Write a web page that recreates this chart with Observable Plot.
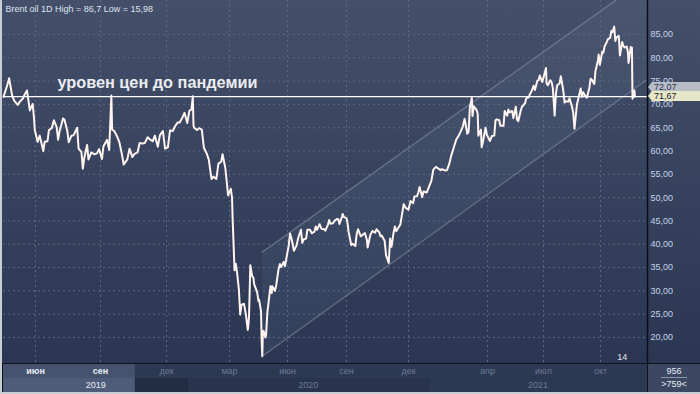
<!DOCTYPE html>
<html><head><meta charset="utf-8">
<script src="https://cdn.jsdelivr.net/npm/d3@7"></script>
<script src="https://cdn.jsdelivr.net/npm/@observablehq/plot@0.6"></script>
<style>
html,body{margin:0;padding:0;background:#c9cdd4;}
#wrap{position:relative;width:700px;height:394px;overflow:hidden;font-family:"Liberation Sans",Arial,sans-serif;}
#main,#bar{position:absolute;left:0;}
#main{top:0;}
#bar{top:363px;}
.border{position:absolute;background:#c9cdd4;}
.tag{position:absolute;left:652px;width:46px;font-size:9px;line-height:10px;padding-left:2px;}
.tag:before{content:"";position:absolute;left:-4px;top:0;border-top:5px solid transparent;border-bottom:5px solid transparent;border-right:4px solid var(--c);}
#info{position:absolute;left:648px;top:364px;width:52px;height:28px;background:#3c4862;color:#e4e9f2;font-size:9px;text-align:center;line-height:10px;}
</style></head>
<body><div id="wrap"><div id="main"></div><div id="bar"></div></div>
<script>
// ---- data ----
const brentDates = [
"2019-04-17","2019-04-22","2019-04-25","2019-04-29","2019-05-02","2019-05-07","2019-05-10","2019-05-14","2019-05-17","2019-05-20",
"2019-05-22","2019-05-24","2019-05-28","2019-05-30","2019-05-31","2019-06-04","2019-06-07","2019-06-12","2019-06-14","2019-06-18",
"2019-06-20","2019-06-24","2019-06-27","2019-07-01","2019-07-03","2019-07-05","2019-07-10","2019-07-12","2019-07-16","2019-07-18",
"2019-07-22","2019-07-25","2019-07-30","2019-08-01","2019-08-05","2019-08-07","2019-08-09","2019-08-13","2019-08-15","2019-08-19",
"2019-08-23","2019-08-27","2019-08-30","2019-09-03","2019-09-05","2019-09-10","2019-09-13","2019-09-16","2019-09-17","2019-09-20",
"2019-09-24","2019-09-27","2019-10-01","2019-10-03","2019-10-08","2019-10-11","2019-10-15","2019-10-18","2019-10-22","2019-10-25",
"2019-10-29","2019-11-01","2019-11-05","2019-11-08","2019-11-12","2019-11-15","2019-11-19","2019-11-22","2019-11-26","2019-11-29",
"2019-12-03","2019-12-06","2019-12-10","2019-12-13","2019-12-17","2019-12-20","2019-12-24","2019-12-27","2019-12-31","2020-01-03",
"2020-01-06","2020-01-08","2020-01-09","2020-01-10","2020-01-14","2020-01-17","2020-01-21","2020-01-24","2020-01-28","2020-01-31",
"2020-02-04","2020-02-07","2020-02-11","2020-02-14","2020-02-18","2020-02-20","2020-02-24","2020-02-26","2020-02-28","2020-03-03",
"2020-03-05","2020-03-06","2020-03-09","2020-03-11","2020-03-13","2020-03-16","2020-03-18","2020-03-20","2020-03-24","2020-03-27",
"2020-03-30","2020-03-31","2020-04-01","2020-04-02","2020-04-03","2020-04-06","2020-04-08","2020-04-09","2020-04-14","2020-04-16",
"2020-04-17","2020-04-20","2020-04-21","2020-04-22","2020-04-23","2020-04-24","2020-04-27","2020-04-28","2020-04-30","2020-05-01",
"2020-05-05","2020-05-07","2020-05-08","2020-05-12","2020-05-14","2020-05-18","2020-05-20","2020-05-22","2020-05-26","2020-05-28",
"2020-06-01","2020-06-03","2020-06-05","2020-06-08","2020-06-11","2020-06-15","2020-06-18","2020-06-22","2020-06-24","2020-06-26",
"2020-06-30","2020-07-02","2020-07-06","2020-07-09","2020-07-13","2020-07-15","2020-07-17","2020-07-21","2020-07-24","2020-07-28",
"2020-07-30","2020-08-03","2020-08-05","2020-08-07","2020-08-11","2020-08-13","2020-08-17","2020-08-19","2020-08-21","2020-08-25",
"2020-08-26","2020-08-28","2020-09-01","2020-09-03","2020-09-04","2020-09-08","2020-09-10","2020-09-14","2020-09-16","2020-09-18",
"2020-09-22","2020-09-24","2020-09-28","2020-10-01","2020-10-02","2020-10-06","2020-10-09","2020-10-13","2020-10-15","2020-10-19",
"2020-10-21","2020-10-23","2020-10-27","2020-10-29","2020-11-02","2020-11-04","2020-11-06","2020-11-09","2020-11-11","2020-11-13",
"2020-11-17","2020-11-19","2020-11-24","2020-11-27","2020-12-01","2020-12-04","2020-12-08","2020-12-10","2020-12-14","2020-12-16",
"2020-12-18","2020-12-22","2020-12-24","2020-12-29","2020-12-31","2021-01-05","2021-01-08","2021-01-12","2021-01-14","2021-01-19",
"2021-01-21","2021-01-25","2021-01-27","2021-01-29","2021-02-02","2021-02-04","2021-02-08","2021-02-10","2021-02-12","2021-02-16",
"2021-02-18","2021-02-22","2021-02-25","2021-03-01","2021-03-03","2021-03-05","2021-03-08","2021-03-09","2021-03-11","2021-03-15",
"2021-03-17","2021-03-18","2021-03-22","2021-03-23","2021-03-25","2021-03-29","2021-03-31","2021-04-05","2021-04-08","2021-04-12",
"2021-04-14","2021-04-16","2021-04-20","2021-04-22","2021-04-27","2021-04-29","2021-05-03","2021-05-05","2021-05-07","2021-05-11",
"2021-05-13","2021-05-17","2021-05-19","2021-05-21","2021-05-25","2021-05-27","2021-06-01","2021-06-03","2021-06-07","2021-06-09",
"2021-06-11","2021-06-15","2021-06-17","2021-06-21","2021-06-23","2021-06-25","2021-06-29","2021-07-01","2021-07-05","2021-07-06",
"2021-07-08","2021-07-12","2021-07-14","2021-07-16","2021-07-19","2021-07-21","2021-07-23","2021-07-27","2021-07-29","2021-08-02",
"2021-08-04","2021-08-06","2021-08-10","2021-08-12","2021-08-16","2021-08-18","2021-08-20","2021-08-24","2021-08-26","2021-08-30",
"2021-09-01","2021-09-03","2021-09-07","2021-09-09","2021-09-13","2021-09-15","2021-09-17","2021-09-21","2021-09-23","2021-09-27",
"2021-09-28","2021-09-30","2021-10-04","2021-10-06","2021-10-08","2021-10-12","2021-10-14","2021-10-18","2021-10-20","2021-10-22",
"2021-10-25","2021-10-27","2021-10-29","2021-11-02","2021-11-04","2021-11-08","2021-11-10","2021-11-12","2021-11-16","2021-11-18",
"2021-11-19","2021-11-23","2021-11-25","2021-11-26","2021-11-29","2021-11-30"
];
const brentClose = [
71.6,74.0,75.6,72.0,70.8,69.9,70.6,71.2,72.2,73.0,
70.9,68.7,70.1,66.9,64.5,61.97,63.3,59.97,62.0,62.1,
64.5,64.9,66.6,65.1,62.4,64.2,67.0,66.7,64.35,61.9,
63.3,63.4,65.0,60.5,59.8,56.2,58.5,61.3,58.2,59.7,
59.3,59.5,60.4,58.3,60.95,62.4,60.2,71.9,64.6,64.3,
63.1,61.9,58.9,57.1,58.2,60.5,58.7,59.4,59.7,61.7,
61.6,61.7,62.96,62.5,62.1,63.3,60.9,63.4,64.3,60.5,
60.8,64.4,64.3,65.2,66.1,66.1,67.2,68.2,66.0,68.6,
68.9,71.75,65.4,65.0,64.5,64.9,64.6,60.7,59.5,58.2,
54.0,54.5,54.0,57.3,57.7,59.3,56.3,53.4,50.5,51.9,
50.0,45.3,34.4,35.8,33.9,30.1,24.9,27.0,27.2,24.9,
21.6,22.7,24.7,29.9,35.5,33.1,32.8,31.5,29.6,27.8,
28.1,25.6,19.3,15.98,21.3,21.4,19.99,20.5,25.3,26.4,
30.97,29.5,31.0,29.98,31.1,34.8,35.75,35.1,36.2,35.3,
38.3,39.8,42.3,40.8,38.6,39.7,41.5,43.1,40.3,41.0,
41.2,43.1,43.1,42.35,42.7,43.8,43.1,44.3,43.3,43.2,
42.9,44.15,45.2,44.4,44.5,44.96,45.4,45.4,44.35,45.9,
46.5,45.8,45.6,44.1,42.7,39.8,40.1,39.6,42.2,43.2,
41.7,41.9,42.4,40.9,39.3,42.0,42.85,42.45,43.2,42.6,
41.7,41.8,40.7,37.65,36.0,41.2,39.45,42.4,43.8,42.8,
43.75,44.2,48.6,47.8,47.4,49.25,48.8,50.25,50.3,51.1,
52.3,50.1,51.3,51.1,51.8,53.6,56.0,56.6,56.4,55.9,
56.1,55.9,55.8,55.9,57.5,58.8,60.6,61.5,62.4,63.35,
63.9,65.2,66.9,63.7,64.1,69.4,71.4,67.5,69.6,68.9,
68.0,63.3,64.6,60.8,61.95,64.98,63.5,62.15,63.2,63.3,
66.6,66.8,66.6,65.4,65.4,68.6,67.6,68.9,68.3,68.6,
67.05,69.5,66.7,66.4,68.7,69.5,70.25,71.3,71.5,72.2,
72.7,74.0,73.1,75.1,75.2,76.2,74.8,75.8,77.8,74.5,
74.1,75.2,74.8,73.6,67.6,72.2,74.1,74.5,76.05,72.9,
70.4,70.7,70.6,71.3,69.5,68.2,64.8,70.05,71.1,73.4,
71.6,72.6,71.7,71.45,73.5,75.5,75.3,74.4,77.25,79.5,
80.7,78.5,81.3,81.1,82.4,83.4,84.0,84.3,85.8,85.5,
86.7,83.6,84.4,84.7,80.5,83.4,82.6,82.2,82.4,81.2,
78.9,82.3,82.2,71.2,73.0,71.67
];
const titleText = "Brent oil 1D High = 86,7 Low = 15,98";
const annotationText = "уровен цен до пандемии";
const annotationDate = "2019-07-02";
const preCovidLevel = 71.67;
const lastPrice = "71,67";
const prevTag = "72,07";
const channelDates = ["2020-04-22", "2021-12-20"];
const channelLow = [15.98, 75.4];
const channelHigh = [38.3, 97.2];
const yTicks = [20,25,30,35,40,45,50,55,60,65,70,75,80,85];
const monthTickDates = ["2019-06-01","2019-09-01","2019-12-01","2020-03-01","2020-06-01","2020-09-01","2020-12-01","2021-04-01","2021-07-01","2021-10-01"];
const monthLabels = ["июн","сен","дек","мар","июн","сен","дек","апр","июл","окт"];
const yearLabels = ["2019","2020","2021"];
const yearStarts = ["2019-04-17","2020-01-01","2021-01-01"];
const highlightEnd = "2019-10-19";
const markerText = "14";
const markerDate = "2021-11-08";
const infoTop = "956", infoBottom = ">759<";
// scale anchors (time axis of the source chart is not uniform in calendar days)
const axisAnchorDates = ["2019-04-17","2019-06-01","2019-09-01","2019-12-01","2020-03-01","2020-06-01","2020-09-01","2020-12-01","2021-04-01","2021-07-01","2021-10-01","2021-11-26","2021-12-20"];
const axisAnchorPx = [3,35,100,166,229,287,346,408,487,543,600,632,647];

const parse = d3.utcParse("%Y-%m-%d");
const series = brentDates.map((d,i)=>({date: parse(d), price: brentClose[i]}));
const channel = channelDates.map((d,i)=>({date: parse(d), lo: channelLow[i], hi: channelHigh[i]}));
const xDomain = axisAnchorDates.map(parse);
const endDate = xDomain[xDomain.length-1];
const months = monthTickDates.map((d,i)=>({date: parse(d), label: monthLabels[i]}));
const hl = parse(highlightEnd);
const font = '"Liberation Sans", Arial, sans-serif';
const grid = "#5b6782";

const main = Plot.plot({
  width: 700, height: 363,
  marginTop: 0, marginBottom: 0, marginLeft: 3, marginRight: 53,
  x: {type: "utc", domain: xDomain, range: axisAnchorPx, axis: null},
  y: {domain: [14.4, 92.3], axis: null, label: null},
  style: {background: "linear-gradient(180deg,#444f69 0%,#37435e 50%,#2b3752 100%)", fontFamily: font, fontSize: "9px", overflow: "visible"},
  marks: [
    Plot.areaY(channel, {x: "date", y1: "lo", y2: "hi", fill: "#9fb2d6", fillOpacity: 0.07, clip: true}),
    Plot.ruleY(yTicks, {stroke: grid, strokeDasharray: "2,3"}),
    Plot.ruleX(months, {x: "date", stroke: grid, strokeDasharray: "2,3"}),
    Plot.line(channel, {x: "date", y: "lo", stroke: "#8792ab", strokeOpacity: 0.5, clip: true}),
    Plot.line(channel, {x: "date", y: "hi", stroke: "#8792ab", strokeOpacity: 0.5, clip: true}),
    Plot.line(series, {x: "date", y: "price", stroke: "#fff4f0", strokeWidth: 2}),
    Plot.ruleY([preCovidLevel], {stroke: "#ffffff", strokeWidth: 1.3}),
    Plot.text([annotationText], {x: () => parse(annotationDate), y: () => preCovidLevel, text: d => d, dy: -9, textAnchor: "start", lineAnchor: "bottom", fontSize: 16.3, fontWeight: "bold", fill: "#ececf0"}),
    Plot.text([titleText], {frameAnchor: "top-left", text: d => d, dx: 2, dy: 5, textAnchor: "start", lineAnchor: "top", fontSize: 9, fill: "#dfe5ef"}),
    Plot.text([markerText], {x: () => parse(markerDate), frameAnchor: "bottom", text: d => d, dy: -4, fontSize: 9, fill: "#e2e7f0"}),
    Plot.axisY(yTicks, {anchor: "right", tickSize: 0, tickPadding: 3, label: null, tickFormat: d => d.toFixed(2).replace(".", ","), fontSize: 9, fill: "#c5d3ea"}),
    Plot.ruleX([endDate], {stroke: "#0b0e14", strokeWidth: 1.5})
  ]
});
document.getElementById("main").appendChild(main);

const xs = main.scale("x");
const mid = (a, b) => new Date(xs.invert((xs.apply(a) + xs.apply(b)) / 2));
const yStarts = yearStarts.map(parse);
const years = yearLabels.map((t,i)=>{
  const a = yStarts[i], b = i < yStarts.length-1 ? yStarts[i+1] : endDate;
  return {label: t, a, b, c: mid(a, b), hl: a < hl};
});
const start = xDomain[0];
const rowCells = [
  {row: "m", a: start, b: endDate, fill: "#2c3953"},
  {row: "m", a: start, b: hl, fill: "#45536f"},
  {row: "y", a: years[0].a, b: years[0].b, fill: "#222d44"},
  {row: "y", a: years[1].a, b: years[1].b, fill: "#28344d"},
  {row: "y", a: years[2].a, b: years[2].b, fill: "#2c3953"},
  {row: "y", a: start, b: hl, fill: "#4e5c79"}
];

const bar = Plot.plot({
  width: 700, height: 31,
  marginTop: 1, marginBottom: 2, marginLeft: 3, marginRight: 53,
  x: {type: "utc", domain: xDomain, range: axisAnchorPx, axis: null},
  y: {type: "band", domain: ["m", "y"], padding: 0, axis: null},
  style: {background: "#0e121a", fontFamily: font, fontSize: "9px"},
  marks: [
    Plot.barX(rowCells, {x1: "a", x2: "b", y: "row", fill: d => d.fill}),
    Plot.text(months.filter(d => d.date < hl), {x: "date", y: () => "m", text: "label", fill: "#e6ecf6", fontWeight: "bold", fontSize: 9}),
    Plot.text(months.filter(d => d.date >= hl), {x: "date", y: () => "m", text: "label", fill: "#6c7a93", fontSize: 9}),
    Plot.text(years.filter(d => d.hl), {x: "c", y: () => "y", text: "label", fill: "#e6ecf6", fontSize: 9}),
    Plot.text(years.filter(d => !d.hl), {x: "c", y: () => "y", text: "label", fill: "#6c7a93", fontSize: 9})
  ]
});
document.getElementById("bar").appendChild(bar);

// overlays: price tags placed through the y scale
const ys = main.scale("y");
const wrap = document.getElementById("wrap");
const yLast = ys.apply(preCovidLevel);
function tag(text, top, bg, color) {
  const el = document.createElement("div");
  el.className = "tag";
  el.textContent = text;
  el.style.top = top + "px";
  el.style.height = "10px";
  el.style.background = bg;
  el.style.color = color;
  el.style.setProperty("--c", bg);
  wrap.appendChild(el);
}
tag(prevTag, yLast - 14, "#b7bcc6", "#2b3650");
tag(lastPrice, yLast - 5, "#e6e6c8", "#1e2026");

const info = document.createElement("div");
info.id = "info";
info.innerHTML = '<div style="margin-top:2px">' + infoTop + '</div><div style="border-top:1px solid #8d96a8;width:26px;margin:1px auto 1px"></div><div></div>';
info.lastChild.textContent = infoBottom;
wrap.appendChild(info);

const lb = document.createElement("div"); lb.className = "border";
lb.style.cssText += "left:0;top:0;width:2px;height:394px;";
wrap.appendChild(lb);
const bb = document.createElement("div"); bb.className = "border";
bb.style.cssText += "left:0;top:392px;width:700px;height:2px;";
wrap.appendChild(bb);
</script></body></html>
